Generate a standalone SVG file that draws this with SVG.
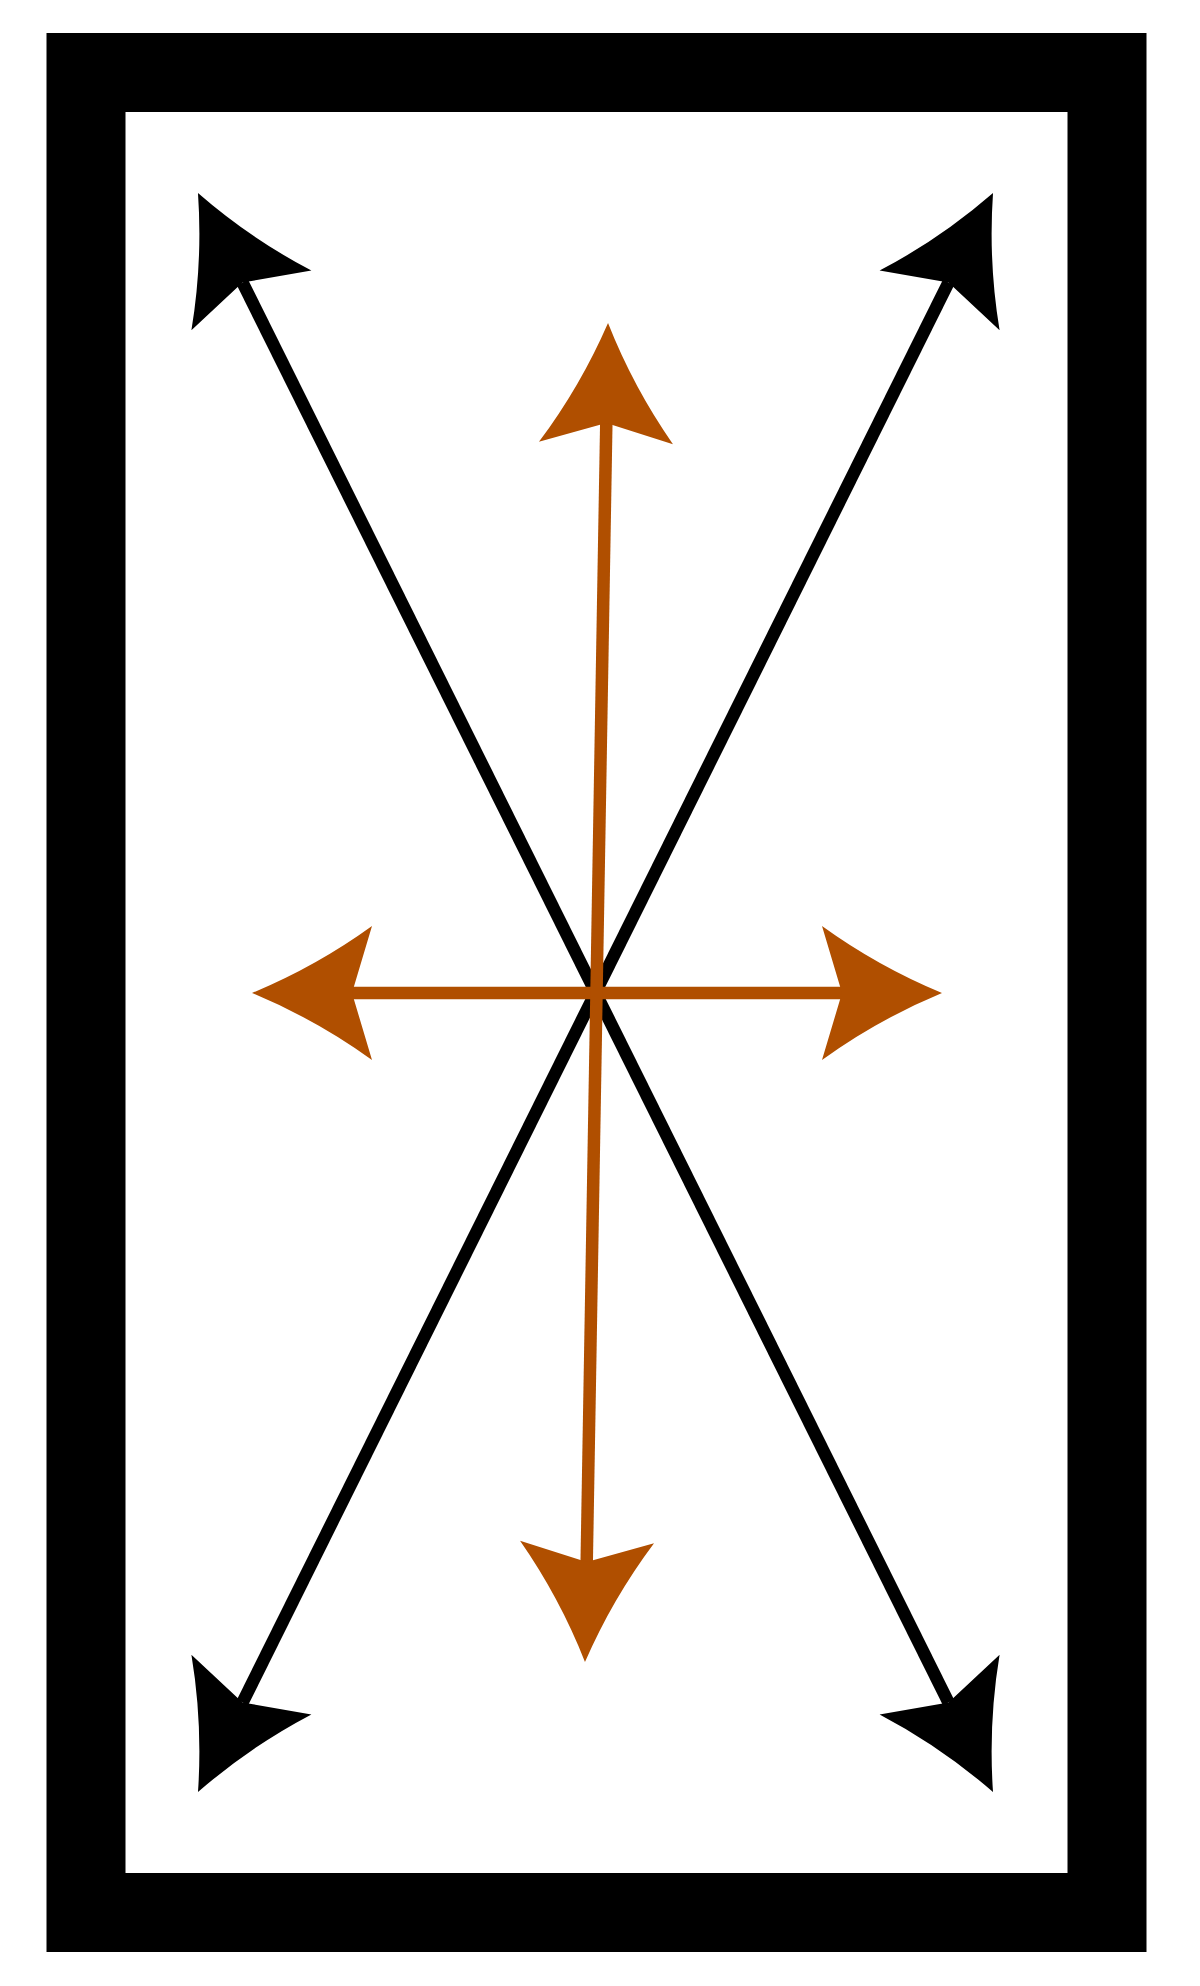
<svg xmlns="http://www.w3.org/2000/svg" width="1200" height="1986" viewBox="0 0 1200 1986">
  <style>
    .frame { fill: none; stroke: #000; stroke-width: 79; }
    .blk { stroke: #000; stroke-width: 12.5; fill: none; }
    .org { stroke: #b04f00; stroke-width: 12.5; fill: none; }
  </style>
  <defs>
    <marker id="ahB" markerUnits="userSpaceOnUse" orient="auto-start-reverse" refX="0" refY="0" markerWidth="10" markerHeight="10" overflow="visible">
      <path d="M100,0 Q36,-26.5 -20,-67 L0,0 L-20,67 Q36,26.5 100,0 Z" fill="#000"/>
    </marker>
    <marker id="ahO" markerUnits="userSpaceOnUse" orient="auto-start-reverse" refX="0" refY="0" markerWidth="10" markerHeight="10" overflow="visible">
      <path d="M100,0 Q36,-26.5 -20,-67 L0,0 L-20,67 Q36,26.5 100,0 Z" fill="#b04f00"/>
    </marker>
  </defs>
  <rect width="1200" height="1986" fill="#fff"/>
  <g id="frame">
    <rect class="frame" x="86" y="72.5" width="1021" height="1840"/>
  </g>
  <g id="connectors">
    <line class="blk" x1="242.5" y1="282.5" x2="948.5" y2="1702.5" marker-start="url(#ahB)" marker-end="url(#ahB)"/>
    <line class="blk" x1="948.5" y1="282.5" x2="242.5" y2="1702.5" marker-start="url(#ahB)" marker-end="url(#ahB)"/>
    <line class="org" x1="352" y1="993" x2="842" y2="993" marker-start="url(#ahO)" marker-end="url(#ahO)"/>
    <line class="org" x1="606.3" y1="423" x2="586.7" y2="1562" marker-start="url(#ahO)" marker-end="url(#ahO)"/>
  </g>
</svg>
